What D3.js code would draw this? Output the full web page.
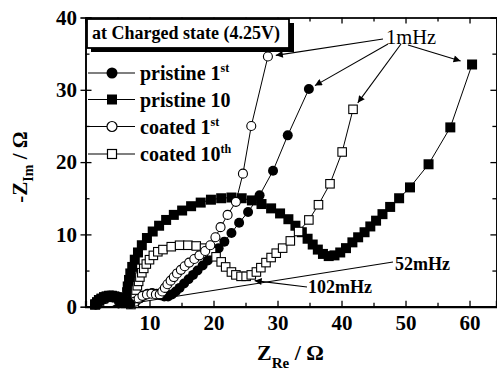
<!DOCTYPE html>
<html><head><meta charset="utf-8">
<script src="https://cdn.jsdelivr.net/npm/d3@7"></script>
<style>
html,body{margin:0;padding:0;background:#fff;}
svg{display:block;font-family:"Liberation Serif","Times New Roman",serif;}
</style></head>
<body><svg id="c" width="497" height="371"></svg>
<script>
// ---- data (Z_Re, -Z_Im) in ohm ----
const pristine1 = [[1.6,0.3],[1.9,0.6],[2.2,0.9],[2.6,1.1],[3.0,1.3],[3.4,1.4],[3.8,1.5],[4.2,1.5],[4.6,1.4],[5.0,1.3],[5.4,1.1],[5.8,0.9],[6.2,0.7],[6.6,0.5],[7.0,0.4],[7.4,0.5],[7.8,0.7],[8.4,1.1],[9.0,1.5],[9.7,1.8],[10.4,1.9],[11.1,1.8],[11.7,1.6],[12.3,1.4],[12.9,1.4],[13.5,1.7],[14.1,2.1],[14.7,2.6],[15.4,3.2],[16.1,3.8],[16.8,4.4],[17.5,5.0],[18.3,5.7],[19.1,6.4],[19.9,7.2],[20.8,8.1],[21.7,9.0],[22.8,10.2],[24.0,11.6],[25.4,13.1],[27.2,15.4],[29.3,18.8],[31.6,23.7],[34.9,30.1]];
const pristine10 = [[1.5,0.3],[1.8,0.6],[2.1,0.9],[2.5,1.1],[2.9,1.3],[3.3,1.4],[3.7,1.5],[4.1,1.5],[4.5,1.4],[4.9,1.3],[5.3,1.1],[5.7,0.9],[6.0,0.7],[6.3,0.5],[6.4,1.2],[6.5,2.0],[6.6,2.8],[6.8,3.7],[7.0,4.6],[7.3,5.5],[7.7,6.5],[8.2,7.5],[8.8,8.5],[9.6,9.5],[10.5,10.4],[11.5,11.2],[12.6,12.0],[13.8,12.7],[15.1,13.3],[16.5,13.9],[18.0,14.4],[19.6,14.8],[21.2,15.0],[22.8,15.1],[24.4,15.0],[26.0,14.7],[27.5,14.2],[29.0,13.6],[30.4,12.9],[31.7,12.1],[32.8,11.2],[33.8,10.3],[34.7,9.4],[35.5,8.6],[36.3,7.9],[37.1,7.3],[38.0,7.0],[38.9,7.1],[39.8,7.5],[40.7,8.1],[41.7,8.9],[42.6,9.6],[43.6,10.3],[44.5,11.1],[45.4,11.9],[46.4,12.8],[47.6,13.8],[49.0,15.0],[50.7,16.5],[53.6,19.7],[57.0,24.8],[60.4,33.5]];
const coated1 = [[1.7,0.4],[2.2,0.8],[2.8,1.1],[3.4,1.3],[4.0,1.4],[4.7,1.3],[5.3,1.1],[5.9,0.8],[6.5,0.5],[7.1,0.4],[7.7,0.7],[8.3,1.1],[8.9,1.5],[9.6,1.7],[10.3,1.8],[11.0,1.7],[11.6,1.7],[12.0,2.1],[12.4,2.6],[12.8,3.1],[13.3,3.6],[13.8,4.1],[14.3,4.6],[14.9,5.1],[15.5,5.6],[16.2,6.1],[17.0,6.6],[17.8,7.1],[18.7,7.7],[19.5,8.5],[20.3,9.6],[21.1,11.0],[22.2,12.7],[23.5,14.5],[24.6,18.4],[25.9,25.0],[28.5,34.6]];
const coated10 = [[1.7,0.4],[2.2,0.8],[2.8,1.1],[3.4,1.3],[4.0,1.4],[4.7,1.3],[5.3,1.1],[5.9,0.8],[6.5,0.5],[7.1,0.3],[7.6,0.5],[7.7,1.1],[7.8,1.7],[7.9,2.3],[8.1,2.9],[8.3,3.5],[8.5,4.1],[8.8,4.7],[9.1,5.3],[9.5,5.9],[10.0,6.5],[10.6,7.1],[11.3,7.6],[12.1,7.9],[13.4,8.3],[14.7,8.5],[16.0,8.5],[17.3,8.4],[18.6,8.1],[19.7,7.6],[20.4,6.9],[21.2,6.2],[21.9,5.5],[22.8,4.8],[23.5,4.4],[24.3,4.2],[25.1,4.2],[25.9,4.4],[26.7,4.8],[27.4,5.4],[28.2,6.1],[29.0,6.8],[29.8,7.4],[30.8,8.1],[32.0,9.1],[33.3,10.4],[34.9,12.0],[36.4,14.1],[38.2,17.0],[40.1,21.4],[41.8,27.3]];

const xMajor = [10,20,30,40,50,60];
const xMinor = [5,15,25,35,45,55];
const yMajor = [0,10,20,30,40];
const yMinor = [5,15,25,35];

const legendItems = [
  {name:"pristine 1", sup:"st", shape:"circle", fill:true},
  {name:"pristine 10", sup:"", shape:"square", fill:true},
  {name:"coated 1", sup:"st", shape:"circle", fill:false},
  {name:"coated 10", sup:"th", shape:"square", fill:false}
];
const titleText = "at Charged state (4.25V)";

// ---- drawing ----
const svg = d3.select("#c");
const L = 85.5, R = 496.4, T = 17.5, B = 306.7;
const x = d3.scaleLinear().domain([0,64.2]).range([L,R]);
const y = d3.scaleLinear().domain([0,40]).range([B,T]);
const SERIF = "Liberation Serif";

// axes
const gB = svg.append("g").attr("transform",`translate(0,${B})`);
gB.call(d3.axisBottom(x).tickValues(xMajor).tickSize(-6).tickPadding(8.5).tickFormat(d3.format("d")));
gB.append("g").call(d3.axisBottom(x).tickValues(xMinor).tickSize(-4).tickFormat(""));
const gT = svg.append("g").attr("transform",`translate(0,${T})`);
gT.call(d3.axisTop(x).tickValues(xMajor).tickSize(-6).tickFormat(""));
gT.append("g").call(d3.axisTop(x).tickValues(xMinor).tickSize(-4).tickFormat(""));
const gL = svg.append("g").attr("transform",`translate(${L},0)`);
gL.call(d3.axisLeft(y).tickValues(yMajor).tickSize(-6).tickPadding(8.5).tickFormat(d3.format("d")));
gL.append("g").call(d3.axisLeft(y).tickValues(yMinor).tickSize(-4).tickFormat(""));
gL.append("g").call(d3.axisLeft(y).tickValues(yMajor).tickSize(5).tickFormat(""));
const gR = svg.append("g").attr("transform",`translate(${R},0)`);
gR.call(d3.axisRight(y).tickValues(yMajor).tickSize(-6).tickFormat(""));
gR.append("g").call(d3.axisRight(y).tickValues(yMinor).tickSize(-4).tickFormat(""));

svg.selectAll("g").attr("font-family",SERIF);
svg.selectAll(".domain").attr("stroke","#000");
svg.selectAll(".tick line").attr("stroke","#000").attr("stroke-width",1.3);
gB.select(".domain").attr("stroke-width",2.2);
gL.select(".domain").attr("stroke-width",1.6);
gT.select(".domain").attr("stroke-width",1.6);
gR.select(".domain").attr("stroke-width",1.6);
svg.selectAll(".tick text").attr("fill","#000").style("font-family",SERIF).style("font-size","21px").style("font-weight","bold");

// series
const line = d3.line().x(d=>x(d[0])).y(d=>y(d[1]));
function drawMarkers(g, data, shape, filled){
  if(shape==="circle"){
    g.selectAll("circle.m").data(data).join("circle").attr("class","m")
      .attr("cx",d=>x(d[0])).attr("cy",d=>y(d[1]))
      .attr("r",filled?5:4.5)
      .attr("fill",filled?"#000":"#fff").attr("stroke","#000").attr("stroke-width",filled?0:1.1);
  } else {
    const s = filled?10:8.5;
    g.selectAll("rect.m").data(data).join("rect").attr("class","m")
      .attr("x",d=>x(d[0])-s/2).attr("y",d=>y(d[1])-s/2)
      .attr("width",s).attr("height",s)
      .attr("fill",filled?"#000":"#fff").attr("stroke","#000").attr("stroke-width",filled?0:1.1);
  }
}
function drawSeries(data, shape, filled){
  const g = svg.append("g");
  g.append("path").attr("d",line(data)).attr("fill","none").attr("stroke","#000").attr("stroke-width",1);
  drawMarkers(g, data, shape, filled);
}
drawSeries(pristine10,"square",true);
drawSeries(pristine1,"circle",true);
drawSeries(coated10,"square",false);
drawSeries(coated1,"circle",false);
// the dense high-frequency arc of the pristine cells shows as a solid band on top
drawMarkers(svg.append("g"), pristine10.filter(d=>d[0]<6.35), "square", true);
drawMarkers(svg.append("g"), pristine1.filter(d=>d[0]<7.2), "circle", true);

// annotations
const defs = svg.append("defs");
defs.append("marker").attr("id","ah").attr("viewBox","0 0 10 10").attr("refX",10).attr("refY",5)
  .attr("markerWidth",10).attr("markerHeight",7).attr("markerUnits","userSpaceOnUse").attr("orient","auto")
  .append("path").attr("d","M0,0 L10,5 L0,10 z").attr("fill","#000");

function arrowTo(x0,y0,pt,gap){
  const px = x(pt[0]), py = y(pt[1]);
  const dx = px-x0, dy = py-y0, len = Math.hypot(dx,dy);
  const ex = px - dx/len*gap, ey = py - dy/len*gap;
  svg.append("line").attr("x1",x0).attr("y1",y0).attr("x2",ex).attr("y2",ey)
    .attr("stroke","#000").attr("stroke-width",1.1).attr("marker-end","url(#ah)");
}
const lastOf = a => a[a.length-1];
arrowTo(383,39,lastOf(coated1),8);
arrowTo(388,44,lastOf(pristine1),7);
arrowTo(401,44,lastOf(coated10),8);
arrowTo(408,45,lastOf(pristine10),12);
svg.append("text").attr("x",386).attr("y",44).style("font-family",SERIF).style("font-size","20.5px").text("1mHz");

const minP10 = pristine10.reduce((a,b)=>b[1]<a[1]?b:a);
arrowTo(393,262,[minP10[0]+1.7,minP10[1]-0.4],6);
svg.append("text").attr("x",395).attr("y",270).style("font-family",SERIF).style("font-size","18px").style("font-weight","bold").text("52mHz");

const minC10 = coated10.slice(20).reduce((a,b)=>b[1]<a[1]?b:a);
arrowTo(307,287,[minC10[0]+1.2,minC10[1]-0.5],6);
svg.append("text").attr("x",308).attr("y",293).style("font-family",SERIF).style("font-size","18px").style("font-weight","bold").text("102mHz");

// title box
svg.append("rect").attr("x",91).attr("y",23).attr("width",203).attr("height",29).attr("fill","#000");
svg.append("rect").attr("x",87).attr("y",19).attr("width",202).attr("height",29).attr("fill","#fff").attr("stroke","#000").attr("stroke-width",1.8);
svg.append("text").attr("x",92).attr("y",39).style("font-family",SERIF).style("font-size","18px").style("font-weight","bold").text(titleText);

// legend
const lg = svg.append("g");
const rowY = [73,99.5,126.5,154];
legendItems.forEach((it,i)=>{
  const yy = rowY[i];
  lg.append("line").attr("x1",88).attr("x2",135).attr("y1",yy).attr("y2",yy).attr("stroke","#000").attr("stroke-width",1.1);
  if(it.shape==="circle"){
    lg.append("circle").attr("cx",112).attr("cy",yy).attr("r",it.fill?5.5:5)
      .attr("fill",it.fill?"#000":"#fff").attr("stroke","#000").attr("stroke-width",it.fill?0:1.2);
  } else {
    const s = it.fill?10:9;
    lg.append("rect").attr("x",112-s/2).attr("y",yy-s/2).attr("width",s).attr("height",s)
      .attr("fill",it.fill?"#000":"#fff").attr("stroke","#000").attr("stroke-width",it.fill?0:1.2);
  }
  const t = lg.append("text").attr("x",140).attr("y",yy+7).style("font-family",SERIF).style("font-size","20px").style("font-weight","bold");
  t.append("tspan").text(it.name);
  if(it.sup) t.append("tspan").attr("dy",-8).style("font-size","12px").text(it.sup);
});

// axis titles
const xt = svg.append("text").attr("x",257).attr("y",360).style("font-family",SERIF).style("font-size","22px").style("font-weight","bold");
xt.append("tspan").text("Z");
xt.append("tspan").attr("dy",8).style("font-size","15px").text("Re");
xt.append("tspan").attr("dy",-8).text(" / Ω");

const yt = svg.append("text").attr("transform","translate(27,167) rotate(-90)").attr("text-anchor","middle")
  .style("font-family",SERIF).style("font-size","21px").style("font-weight","bold");
yt.append("tspan").text("-Z");
yt.append("tspan").attr("dy",6).style("font-size","14px").text("Im");
yt.append("tspan").attr("dy",-6).text(" / Ω");
</script>
</body></html>
